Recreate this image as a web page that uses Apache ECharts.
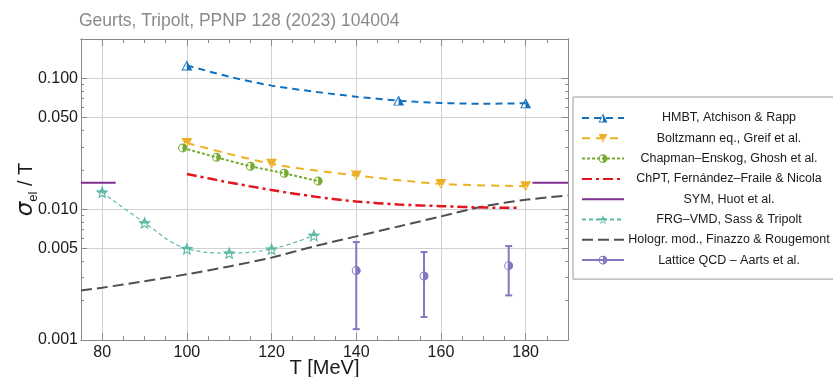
<!DOCTYPE html>
<html><head><meta charset="utf-8">
<script src="https://cdn.jsdelivr.net/npm/echarts@6/dist/echarts.min.js"></script>
<style>html,body{margin:0;padding:0;background:#fff}#c{width:833px;height:377px}</style>
</head><body><div id="c"></div>
<script>
// ---------- data ----------
const titleText = 'Geurts, Tripolt, PPNP 128 (2023) 104004';
const xTicks = [80, 100, 120, 140, 160, 180];
const xMinorTicks = [85, 90, 95, 105, 110, 115, 125, 130, 135, 145, 150, 155, 165, 170, 175, 185];
const yTicks = [0.001, 0.005, 0.01, 0.05, 0.1];
const yTickLabels = ['0.001', '0.005', '0.010', '0.050', '0.100'];
const yMinorTicks = [0.002, 0.003, 0.004, 0.006, 0.007, 0.008, 0.009, 0.02, 0.03, 0.04, 0.06, 0.07, 0.08, 0.09];

const names = [
  'HMBT, Atchison & Rapp',
  'Boltzmann eq., Greif et al.',
  'Chapman–Enskog, Ghosh et al.',
  'ChPT, Fernández–Fraile & Nicola',
  'SYM, Huot et al.',
  'FRG–VMD, Sass & Tripolt',
  'Hologr. mod., Finazzo & Rougemont',
  'Lattice QCD – Aarts et al.'
];

const hmbtT = [100, 110, 120, 130, 140, 150, 160, 170, 180];
const hmbtV = [0.1257, 0.103, 0.088, 0.0792, 0.0725, 0.0676, 0.0649, 0.0640, 0.0645];
const hmbtMarkT = [100, 150, 180];

const boltzT = [100, 120, 140, 160, 180];
const boltzV = [0.0321, 0.0222, 0.0181, 0.0156, 0.0150];

const chapT = [99, 107, 115, 123, 131];
const chapV = [0.0294, 0.0249, 0.0213, 0.0188, 0.0164];

const chptT = [100, 110, 120, 130, 140, 150, 160, 170, 178];
const chptV = [0.0186, 0.0160, 0.0140, 0.0125, 0.01145, 0.01086, 0.01054, 0.0103, 0.01023];

const symLeftT = [75, 83.2];
const symLeftV = [0.0159, 0.0159];
const symRightT = [181.6, 190];
const symRightV = [0.0159, 0.0159];

const frgT = [80, 90, 100, 110, 120, 130];
const frgV = [0.0135, 0.00787, 0.00499, 0.00462, 0.00495, 0.0063];

const holoT = [75, 80, 90, 100, 110, 120, 130, 140, 150, 160, 170, 180, 190];
const holoV = [0.00239, 0.00251, 0.00281, 0.00318, 0.00365, 0.00426, 0.00519, 0.00619, 0.00738, 0.0088, 0.0105, 0.0118, 0.01273];

const latT = [140, 156, 176];
const latV = [0.00339, 0.00308, 0.0037];
const latLo = [0.00121, 0.0015, 0.00219];
const latHi = [0.0056, 0.0047, 0.00522];

// ---------- styles ----------
const C = {
  blue: '#1270bd', yellow: '#ecb126', green: '#77ab30', red: '#e3141c',
  purple: '#7e2f8e', teal: '#5dbaa6', gray: '#4f4f4f', lav: '#8676c2'
};
const FONT = 'Liberation Sans';
const symTriUp = 'path://M50 0L100 100L0 100Z M50 20L14 91L86 91Z M50 0L100 100L50 100Z';
const symTriDown = 'path://M0 0L100 0L50 100Z M14 9L50 80L86 9Z M0 0L100 0L75 50L25 50Z';
const symCirc = 'path://M50 0A50 50 0 1 1 50 100A50 50 0 1 1 50 0Z M50 11A39 39 0 1 0 50 89A39 39 0 1 0 50 11Z M50 0A50 50 0 0 1 50 100Z';
const symStar = 'path://M50 0L62.93 32.2L97.55 34.55L70.92 56.8L79.39 90.45L50 72L20.61 90.45L29.08 56.8L2.45 34.55L37.07 32.2Z ' +
  'M50 21.5L42.59 39.81L22.89 41.19L38.02 53.89L33.25 73.06L50 62.6L66.75 73.06L61.98 53.89L77.11 41.19L57.41 39.81Z ' +
  'M50 0L62.93 32.2L97.55 34.55L79.06 50L20.94 50L2.45 34.55L37.07 32.2Z';

function pairs(T, V, markT) {
  return T.map((t, i) => (markT && !markT.includes(t)) ? { value: [t, V[i]], symbol: 'none' } : [t, V[i]]);
}

const X_MIN = 75, X_MAX = 190, Y_MIN = 0.000999, Y_MAX = 0.2;
const frameColor = '#8a8a8a';

function xAx(pos, major, withLabels) {
  return {
    type: 'value', position: pos, min: X_MIN, max: X_MAX,
    axisLine: { show: true, onZero: false, lineStyle: { color: frameColor, width: 1 } },
    axisTick: { show: true, inside: true, length: major ? 7 : 4, customValues: major ? xTicks : xMinorTicks,
      lineStyle: { color: frameColor } },
    axisLabel: withLabels ? { show: true, customValues: xTicks, margin: 5, fontSize: 16, fontFamily: FONT, color: '#1a1a1a' } : { show: false },
    splitLine: withLabels ? { show: true, lineStyle: { color: '#d2d2d2', width: 1 } } : { show: false },
    name: withLabels ? 'T [MeV]' : '',
    nameLocation: 'middle', nameGap: 18.5, nameMoveOverlap: false,
    nameTextStyle: { fontSize: 20, fontFamily: FONT, color: '#1a1a1a' }
  };
}
function yAx(pos, major, withLabels) {
  return {
    type: 'log', logBase: 10, position: pos, min: Y_MIN, max: Y_MAX,
    axisLine: { show: true, onZero: false, lineStyle: { color: frameColor, width: 1 } },
    axisTick: { show: true, inside: true, length: major ? 6 : 3, customValues: major ? yTicks : yMinorTicks,
      lineStyle: { color: frameColor } },
    axisLabel: withLabels ? {
      show: true, customValues: yTicks, margin: 3, fontSize: 16, fontFamily: FONT, color: '#1a1a1a',
      formatter: v => { const i = yTicks.findIndex(t => Math.abs(t - v) / t < 1e-3); return i >= 0 ? yTickLabels[i] : ''; }
    } : { show: false },
    splitLine: withLabels ? { show: true, lineStyle: { color: '#d2d2d2', width: 1 } } : { show: false },
    minorTick: { show: false }
  };
}

const yAxis0 = yAx('left', true, true);
yAxis0.name = '{i|σ}{s|el}{n| / T}';
yAxis0.nameLocation = 'middle';
yAxis0.nameGap = 41;
yAxis0.nameMoveOverlap = false;
yAxis0.nameTextStyle = {
  fontFamily: FONT, color: '#1a1a1a',
  rich: {
    i: { fontSize: 23, fontStyle: 'italic', fontFamily: 'DejaVu Sans', lineHeight: 28, color: '#1a1a1a' },
    s: { fontSize: 13, lineHeight: 15, verticalAlign: 'bottom', fontFamily: FONT, color: '#1a1a1a' },
    n: { fontSize: 20, lineHeight: 28, fontFamily: FONT, color: '#1a1a1a' }
  }
};

const series = [
  { name: names[0], type: 'line', smooth: 0.3, data: pairs(hmbtT, hmbtV, hmbtMarkT),
    symbol: symTriUp, symbolSize: [11, 10], itemStyle: { color: C.blue },
    lineStyle: { color: C.blue, width: 2, type: [7, 5] }, z: 5 },
  { name: names[1], type: 'line', smooth: 0.3, data: pairs(boltzT, boltzV),
    symbol: symTriDown, symbolSize: [11, 10], itemStyle: { color: C.yellow },
    lineStyle: { color: C.yellow, width: 2, type: [8, 6] }, z: 5 },
  { name: names[2], type: 'line', smooth: 0.2, data: pairs(chapT, chapV),
    symbol: symCirc, symbolSize: 9, itemStyle: { color: C.green },
    lineStyle: { color: C.green, width: 2, type: [3, 2] }, z: 5 },
  { name: names[3], type: 'line', smooth: 0.3, data: pairs(chptT, chptV), symbol: 'none',
    itemStyle: { color: C.red }, lineStyle: { color: C.red, width: 2.5, type: [10, 4, 3, 4] }, z: 4 },
  { name: names[4], type: 'line', data: pairs(symLeftT, symLeftV), symbol: 'none',
    itemStyle: { color: C.purple }, lineStyle: { color: C.purple, width: 2 }, z: 4 },
  { name: names[4], type: 'line', data: pairs(symRightT, symRightV), symbol: 'none',
    itemStyle: { color: C.purple }, lineStyle: { color: C.purple, width: 2 }, z: 4 },
  { name: names[5], type: 'line', smooth: 0.4, data: pairs(frgT, frgV),
    symbol: symStar, symbolSize: 13, itemStyle: { color: C.teal },
    lineStyle: { color: C.teal, width: 1.2, type: [4, 3] }, z: 5 },
  { name: names[6], type: 'line', smooth: 0.3, data: pairs(holoT, holoV), symbol: 'none',
    itemStyle: { color: C.gray }, lineStyle: { color: C.gray, width: 2, type: [11, 5] }, z: 3 },
  { name: 'lattice-errors', type: 'custom', z: 5,
    data: latT.map((t, i) => [t, latLo[i], latHi[i]]),
    renderItem: (params, api) => {
      const x = api.value(0);
      const pLo = api.coord([x, api.value(1)]);
      const pHi = api.coord([x, api.value(2)]);
      const cap = 3.5;
      const st = { stroke: C.lav, lineWidth: 2 };
      return { type: 'group', children: [
        { type: 'line', shape: { x1: pLo[0], y1: pLo[1], x2: pHi[0], y2: pHi[1] }, style: st },
        { type: 'line', shape: { x1: pLo[0] - cap, y1: pLo[1], x2: pLo[0] + cap, y2: pLo[1] }, style: st },
        { type: 'line', shape: { x1: pHi[0] - cap, y1: pHi[1], x2: pHi[0] + cap, y2: pHi[1] }, style: st }
      ] };
    } },
  { name: names[7], type: 'line', data: pairs(latT, latV),
    symbol: symCirc, symbolSize: 9, itemStyle: { color: C.lav },
    lineStyle: { color: C.lav, width: 2, opacity: 0 }, z: 6 }
];

const lineOnly = [3, 4, 6];
const chart = echarts.init(document.getElementById('c'), null, { renderer: 'canvas' });
chart.setOption({
  animation: false,
  backgroundColor: '#fff',
  title: { text: titleText, left: 74, top: 7,
    textStyle: { fontSize: 17.5, fontWeight: 'normal', fontFamily: FONT, color: '#8a8a8a' } },
  grid: { left: 81, right: 265, top: 39, bottom: 37, containLabel: false, outerBoundsMode: 'none' },
  xAxis: [xAx('bottom', true, true), xAx('bottom', false, false), xAx('top', true, false), xAx('top', false, false)],
  yAxis: [yAxis0, yAx('left', false, false), yAx('right', true, false), yAx('right', false, false)],
  legend: {
    orient: 'vertical', left: 573, top: 97,
    padding: [13, 30, 11, 8], itemGap: 4.3, itemWidth: 42, itemHeight: 11,
    backgroundColor: '#fff', borderColor: '#9a9a9a', borderWidth: 1,
    data: names.map((n, i) => {
      if (i === 7) return { name: n, lineStyle: { opacity: 1 } };
      if (lineOnly.includes(i)) return { name: n, itemStyle: { opacity: 0 } };
      return { name: n };
    }),
    formatter: n => '{c|' + n + '}',
    textStyle: { fontFamily: FONT, fontSize: 12.5, color: '#1a1a1a', lineHeight: 16,
      rich: { c: { width: 200, align: 'center', fontFamily: FONT, fontSize: 12.5, lineHeight: 16, color: '#1a1a1a' } } }
  },
  series: series
});
</script>
</body></html>
